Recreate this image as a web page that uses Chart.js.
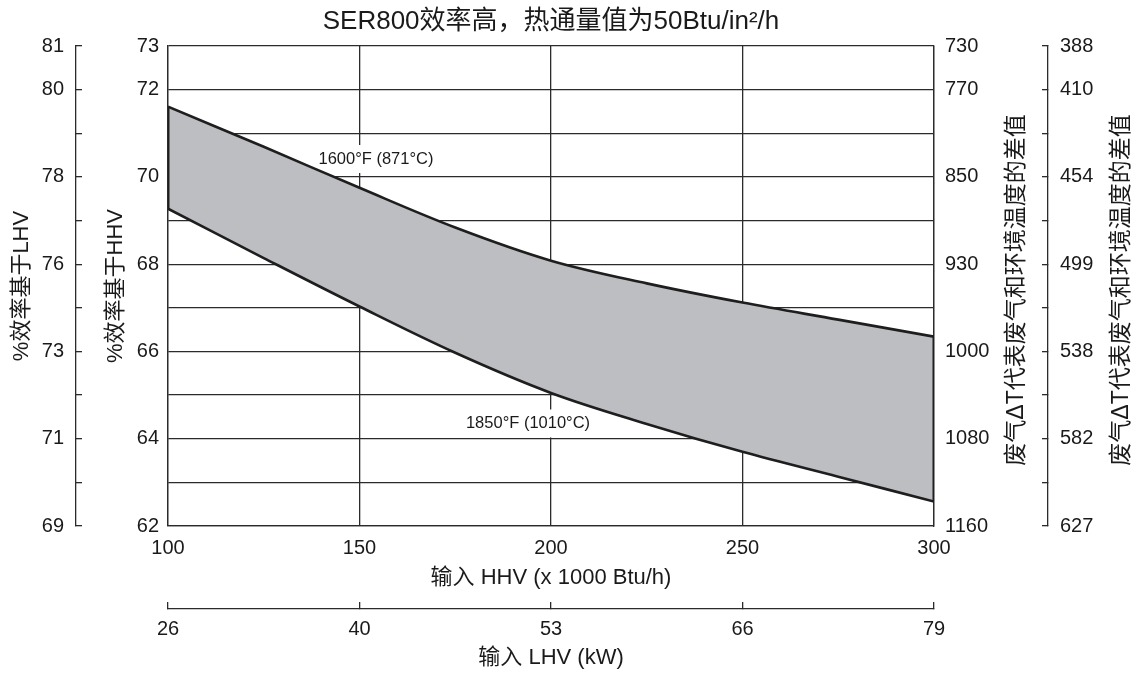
<!DOCTYPE html>
<html>
<head>
<meta charset="utf-8">
<script src="https://cdn.jsdelivr.net/npm/chart.js@4.4.1/dist/chart.umd.min.js"></script>
<style>
  html, body { margin: 0; padding: 0; background: #fff; }
  #wrap { width: 1141px; height: 677px; }
</style>
</head>
<body>
<div id="wrap"><canvas id="myChart"></canvas></div>
<script>
// data (HHV efficiency, %)
const inputHHV = [100, 125, 150, 175, 200, 225, 250, 275, 300];
const eff1600F = [71.61, 70.69, 69.75, 68.84, 68.08, 67.56, 67.12, 66.73, 66.34];
const eff1850F = [69.27, 68.14, 67.03, 65.97, 65.05, 64.34, 63.70, 63.13, 62.56];

// tick labels, from 62 up to 73 on the HHV scale
const hhvPctLabels = ['62', '', '64', '', '66', '', '68', '', '70', '', '72', '73'];
const lhvPctLabels = ['69', '', '71', '', '73', '', '76', '', '78', '', '80', '81'];
const tempFLabels = ['1160', '', '1080', '', '1000', '', '930', '', '850', '', '770', '730'];
const tempCLabels = ['627', '', '582', '', '538', '', '499', '', '454', '', '410', '388'];
// LHV kW labels under HHV 100..300
const lhvKwLabels = ['26', '40', '53', '66', '79'];

const curveLabels = [
  { text: '1600°F (871°C)', x: 154.3, y: 70.41 },
  { text: '1850°F (1010°C)', x: 194, y: 64.35 },
];
const rightTitle = '废气ΔT代表废气和环境温度的差值';

const FONT = "'Liberation Sans', 'Noto Sans CJK SC', sans-serif";
const TEXT = '#1a1a1a';
const GRID = '#2b2b2b';
const LINE = '#1e1e1e';
const FILL = '#bdbec1';

Chart.defaults.font.family = FONT;
Chart.defaults.color = TEXT;

const pts = (ys) => inputHHV.map((x, i) => ({ x: x, y: ys[i] }));
const last = inputHHV.length - 1;

// white boxes + text for the two curve labels
const curveText = {
  id: 'curveText',
  beforeDatasetsDraw(chart) {
    const { ctx, scales } = chart;
    ctx.save();
    ctx.font = '16.5px ' + FONT;
    ctx.textAlign = 'center';
    ctx.textBaseline = 'middle';
    curveLabels.forEach(l => {
      const px = scales.x.getPixelForValue(l.x);
      const py = scales.y.getPixelForValue(l.y);
      const w = ctx.measureText(l.text).width + 6;
      ctx.fillStyle = '#fff';
      ctx.fillRect(px - w / 2, py - 14, w, 28);
      ctx.fillStyle = TEXT;
      ctx.fillText(l.text, px, py);
    });
    ctx.restore();
  }
};

// right side titles read bottom-to-top
const sideTitles = {
  id: 'sideTitles',
  afterDraw(chart) {
    const { ctx, chartArea, scales } = chart;
    const cy = (chartArea.top + chartArea.bottom) / 2 + 4;
    ctx.save();
    ctx.font = '23px ' + FONT;
    ctx.fillStyle = TEXT;
    ctx.textAlign = 'center';
    ctx.textBaseline = 'middle';
    [[scales.y3, 31], [scales.y4, 19]].forEach(([s, off]) => {
      ctx.save();
      ctx.translate(s.right - off, cy);
      ctx.rotate(-Math.PI / 2);
      ctx.fillText(rightTitle, 0, 0);
      ctx.restore();
    });
    ctx.restore();
  }
};

new Chart('myChart', {
  type: 'line',
  data: {
    datasets: [
      {
        label: '1600°F',
        data: pts(eff1600F),
        borderColor: LINE,
        borderWidth: 2.6,
        pointRadius: 0,
        tension: 0.35,
        fill: false,
      },
      {
        label: '1850°F',
        data: pts(eff1850F),
        borderColor: LINE,
        borderWidth: 2.6,
        pointRadius: 0,
        tension: 0.35,
        backgroundColor: FILL,
        fill: '-1',
      },
      {
        label: 'left edge',
        data: [{ x: inputHHV[0], y: eff1600F[0] }, { x: inputHHV[0], y: eff1850F[0] }],
        borderColor: LINE,
        borderWidth: 3,
        pointRadius: 0,
        fill: false,
        order: -1,
      },
      {
        label: 'right edge',
        data: [{ x: inputHHV[last], y: eff1600F[last] }, { x: inputHHV[last], y: eff1850F[last] }],
        borderColor: LINE,
        borderWidth: 3,
        pointRadius: 0,
        fill: false,
        order: -1,
      },
    ],
  },
  options: {
    responsive: true,
    maintainAspectRatio: false,
    animation: false,
    layout: { padding: 0 },
    plugins: {
      legend: { display: false },
      tooltip: { enabled: false },
      title: {
        display: true,
        fullSize: false,
        text: 'SER800效率高，热通量值为50Btu/in²/h',
        color: TEXT,
        font: { size: 26, weight: 'normal' },
        padding: { top: 6, bottom: 8.8 },
      },
    },
    scales: {
      x: {
        type: 'linear',
        position: 'bottom',
        weight: 0,
        min: 100,
        max: 300,
        ticks: { stepSize: 50, padding: 10, font: { size: 20 }, maxRotation: 0 },
        grid: { color: GRID, lineWidth: 1.3, drawTicks: false },
        border: { display: true, color: GRID, width: 1.3 },
        title: { display: true, text: '输入 HHV (x 1000 Btu/h)', font: { size: 22 }, padding: { top: 0, bottom: 18 } },
        afterFit: s => { s.height = 83; },
      },
      x2: {
        type: 'linear',
        position: 'bottom',
        weight: 1,
        min: 100,
        max: 300,
        ticks: { stepSize: 50, padding: 15, font: { size: 20 }, maxRotation: 0, callback: (v, i) => lhvKwLabels[i] },
        grid: { drawOnChartArea: false, drawTicks: true, tickLength: -7, color: GRID, lineWidth: 1.3 },
        border: { display: true, color: GRID, width: 1.3 },
        title: { display: true, text: '输入 LHV (kW)', font: { size: 22 }, padding: { top: 0, bottom: 6 } },
        afterFit: s => { s.height = 68; },
      },
      y: {
        type: 'linear',
        position: 'left',
        weight: 0,
        min: 62,
        max: 73,
        ticks: { stepSize: 1, autoSkip: false, padding: 9, font: { size: 20 }, callback: (v, i) => hhvPctLabels[i] },
        grid: { color: GRID, lineWidth: 1.3, drawTicks: false },
        border: { display: true, color: GRID, width: 1.3 },
        title: { display: true, text: '%效率基于HHV', font: { size: 22 }, padding: { top: 27, bottom: 0 } },
        afterFit: s => { s.width = 92; },
      },
      y2: {
        type: 'linear',
        position: 'left',
        weight: 1,
        min: 62,
        max: 73,
        ticks: { stepSize: 1, autoSkip: false, padding: 18, font: { size: 20 }, callback: (v, i) => lhvPctLabels[i] },
        grid: { drawOnChartArea: false, drawTicks: true, tickLength: -6, color: GRID, lineWidth: 1.3 },
        border: { display: true, color: GRID, width: 1.3 },
        title: { display: true, text: '%效率基于LHV', font: { size: 22 }, padding: { top: 9, bottom: 0 } },
        afterFit: s => { s.width = 76; },
      },
      y3: {
        type: 'linear',
        position: 'right',
        weight: 0,
        min: 62,
        max: 73,
        ticks: { stepSize: 1, autoSkip: false, padding: 11, font: { size: 20 }, callback: (v, i) => tempFLabels[i] },
        grid: { drawOnChartArea: false, drawTicks: false },
        border: { display: true, color: GRID, width: 1.3 },
        afterFit: s => { s.width = 114; },
      },
      y4: {
        type: 'linear',
        position: 'right',
        weight: 1,
        min: 62,
        max: 73,
        ticks: { stepSize: 1, autoSkip: false, padding: 18, font: { size: 20 }, callback: (v, i) => tempCLabels[i] },
        grid: { drawOnChartArea: false, drawTicks: true, tickLength: -6, color: GRID, lineWidth: 1.3 },
        border: { display: true, color: GRID, width: 1.3 },
        afterFit: s => { s.width = 93; },
      },
    },
  },
  plugins: [curveText, sideTitles],
});
</script>
</body>
</html>
